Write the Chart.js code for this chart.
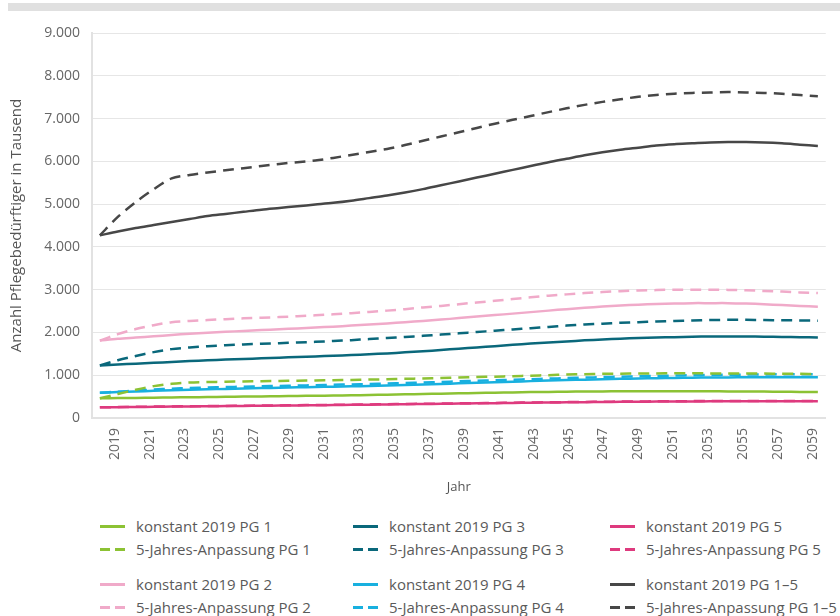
<!DOCTYPE html>
<html lang="de">
<head>
<meta charset="utf-8">
<title>Pflegebedürftige 2019–2059</title>
<script src="https://cdn.jsdelivr.net/npm/chart.js@4/dist/chart.umd.min.js"></script>
<style>
  html, body { margin: 0; padding: 0; background: #fff; }
  body { width: 840px; height: 616px; position: relative; overflow: hidden; font-family: 'Open Sans', sans-serif; }
  .topbar { position: absolute; left: 8px; top: 3px; width: 832px; height: 8px; background: #e0e0e0; }
  .chartBox { position: absolute; left: 0; top: 0; width: 840px; height: 500px; }
  .legend-item { position: absolute; height: 20px; display: flex; align-items: center; font-size: 15px; color: #5a5a5a; white-space: nowrap; }
  .legend-mark { width: 25px; height: 3px; margin-right: 11px; }
</style>
</head>
<body>
<div class="topbar"></div>
<div class="chartBox"><canvas id="myChart"></canvas></div>
<div id="legend"></div>
<script>
// Jahre (Kategorien)
const years = [];
for (let y = 2019; y <= 2059; y++) years.push(y);
const tickYears = years.filter(y => (y - 2019) % 2 === 0);

// Werte in Tausend
const konstPG1 = [460,465,470,475,480,485,490,495,500,505,510,515,520,525,530,537,545,553,561,569,577,585,592,599,605,610,615,619,622,624,625,626,626,625,624,622,620,617,614,610,606];
const anpPG1 = [460,560,660,745,800,830,840,848,855,860,866,872,878,884,890,898,906,915,925,935,945,956,967,978,990,1002,1015,1025,1032,1037,1041,1043,1044,1044,1043,1042,1040,1038,1035,1032,1029];
const konstPG2 = [1810,1850,1880,1910,1940,1970,1995,2015,2035,2055,2075,2095,2115,2135,2160,2185,2210,2240,2270,2300,2335,2370,2405,2440,2475,2510,2545,2575,2605,2630,2650,2665,2675,2685,2685,2685,2675,2660,2640,2620,2600];
const anpPG2 = [1810,1960,2080,2170,2240,2270,2290,2310,2330,2345,2360,2380,2400,2425,2450,2480,2510,2545,2585,2620,2660,2700,2740,2780,2820,2860,2890,2920,2945,2965,2980,2990,3000,3000,3000,2995,2985,2970,2955,2935,2920];
const konstPG3 = [1230,1250,1270,1290,1310,1330,1350,1365,1380,1395,1410,1425,1440,1455,1470,1490,1510,1535,1560,1590,1620,1650,1680,1710,1740,1765,1790,1815,1835,1855,1870,1880,1890,1900,1905,1905,1905,1900,1895,1890,1880];
const anpPG3 = [1230,1350,1450,1540,1610,1650,1680,1700,1720,1735,1750,1765,1780,1800,1820,1845,1870,1895,1920,1950,1980,2010,2040,2070,2100,2130,2160,2185,2205,2225,2240,2255,2270,2280,2290,2295,2295,2290,2285,2280,2275];
const konstPG4 = [590,605,620,635,648,660,670,680,690,700,708,716,724,732,740,750,760,772,784,797,810,823,836,849,862,874,886,897,907,916,924,931,937,942,946,949,951,953,954,955,955];
const anpPG4 = [590,615,640,665,685,700,712,722,732,742,750,758,767,776,785,795,806,818,830,843,856,869,882,895,908,920,932,944,955,965,975,984,992,999,1005,1010,1014,1018,1021,1024,1026];
const konstPG5 = [250,254,258,262,266,270,274,278,282,286,290,294,298,302,307,312,317,322,327,332,337,342,347,352,357,362,366,370,374,377,380,383,385,387,389,390,391,392,392,392,392];
const anpPG5 = [250,256,262,267,271,275,279,283,287,291,295,299,303,307,312,317,322,327,332,337,342,347,352,357,362,367,372,376,380,384,387,390,393,395,397,398,399,400,400,400,400];
const konstPG15 = [4270,4360,4440,4510,4580,4650,4720,4770,4820,4870,4910,4950,4990,5030,5080,5140,5200,5270,5350,5440,5530,5620,5710,5800,5890,5980,6060,6140,6210,6270,6320,6370,6400,6420,6440,6450,6450,6440,6420,6390,6360];
const anpPG15 = [4270,4700,5050,5350,5600,5680,5740,5790,5840,5890,5940,5980,6020,6080,6150,6220,6290,6380,6480,6580,6680,6780,6880,6970,7060,7150,7240,7320,7390,7450,7510,7550,7580,7600,7610,7620,7610,7600,7580,7550,7520];

const yTicks = [0,1000,2000,3000,4000,5000,6000,7000,8000,9000];

const colors = {
  pg1: '#8cc234',
  pg2: '#f0aac9',
  pg3: '#0a687b',
  pg4: '#18b0df',
  pg5: '#de3a7e',
  pg15: '#474747'
};

// Reihen in Legendenreihenfolge (spaltenweise)
const series = [
  { label: 'konstant 2019 PG 1', data: konstPG1, color: colors.pg1, dashed: false },
  { label: '5-Jahres-Anpassung PG 1', data: anpPG1, color: colors.pg1, dashed: true },
  { label: 'konstant 2019 PG 2', data: konstPG2, color: colors.pg2, dashed: false },
  { label: '5-Jahres-Anpassung PG 2', data: anpPG2, color: colors.pg2, dashed: true },
  { label: 'konstant 2019 PG 3', data: konstPG3, color: colors.pg3, dashed: false },
  { label: '5-Jahres-Anpassung PG 3', data: anpPG3, color: colors.pg3, dashed: true },
  { label: 'konstant 2019 PG 4', data: konstPG4, color: colors.pg4, dashed: false },
  { label: '5-Jahres-Anpassung PG 4', data: anpPG4, color: colors.pg4, dashed: true },
  { label: 'konstant 2019 PG 5', data: konstPG5, color: colors.pg5, dashed: false },
  { label: '5-Jahres-Anpassung PG 5', data: anpPG5, color: colors.pg5, dashed: true },
  { label: 'konstant 2019 PG 1–5', data: konstPG15, color: colors.pg15, dashed: false },
  { label: '5-Jahres-Anpassung PG 1–5', data: anpPG15, color: colors.pg15, dashed: true }
];

function fmtDe(v) {
  return String(v).replace(/\B(?=(\d{3})+(?!\d))/g, '.');
}

Chart.defaults.font.family = "'Open Sans', sans-serif";
Chart.defaults.color = '#666';

const datasets = series.map(s => ({
  label: s.label,
  data: years.map((yr, i) => ({ x: yr, y: s.data[i] })),
  borderColor: s.color,
  backgroundColor: s.color,
  borderWidth: 2.5,
  borderDash: s.dashed ? [11, 7] : [],
  pointRadius: 0,
  tension: 0.3,
  fill: false
}));

const ctx = document.getElementById('myChart').getContext('2d');
const myChart = new Chart(ctx, {
  type: 'line',
  data: { datasets: datasets },
  options: {
    responsive: true,
    maintainAspectRatio: false,
    animation: false,
    layout: { padding: { top: 33, right: 2, bottom: 0, left: 0 } },
    plugins: { legend: { display: false }, tooltip: { enabled: false } },
    scales: {
      x: {
        type: 'linear',
        display: false,
        min: 2019 - 8 / 18.25,
        max: 2059 + 8 / 18.25
      },
      xl: {
        type: 'linear',
        position: 'bottom',
        min: 2019 - 23 / 17.75,
        max: 2059 + 13 / 17.75,
        afterBuildTicks: function(scale) {
          scale.ticks = tickYears.map(v => ({ value: v }));
        },
        afterFit: function(scale) { scale.height = 82; },
        ticks: {
          autoSkip: false,
          minRotation: 90,
          maxRotation: 90,
          padding: 10,
          color: '#666',
          font: { size: 14 },
          callback: v => String(v)
        },
        grid: { display: false, drawTicks: false },
        border: { display: true, color: '#e2e2e2', width: 2 },
        title: { display: true, text: 'Jahr', color: '#555', font: { size: 13 }, padding: { top: 0, bottom: 5 } }
      },
      y: {
        min: 0,
        max: 9000,
        afterBuildTicks: function(scale) {
          scale.ticks = yTicks.map(v => ({ value: v }));
        },
        afterFit: function(scale) { scale.width = 92; },
        ticks: {
          padding: 12,
          color: '#666',
          font: { size: 14 },
          callback: v => fmtDe(v)
        },
        grid: { color: '#e6e6e6', lineWidth: 1, drawTicks: false },
        border: { display: true, color: '#e2e2e2', width: 2 },
        title: { display: true, text: 'Anzahl Pflegebedürftiger in Tausend', color: '#555', font: { size: 15 }, padding: { top: 8, bottom: 0 } }
      }
    }
  }
});

// Legende: drei Spalten, vier Zeilen
const legendCols = [100, 353, 610];
const legendRows = [526, 549, 584, 607];
const legendEl = document.getElementById('legend');
series.forEach((s, i) => {
  const col = Math.floor(i / 4);
  const row = i % 4;
  const item = document.createElement('div');
  item.className = 'legend-item';
  item.style.left = legendCols[col] + 'px';
  item.style.top = (legendRows[row] - 10) + 'px';
  const mark = document.createElement('span');
  mark.className = 'legend-mark';
  mark.style.background = s.dashed
    ? 'repeating-linear-gradient(to right, ' + s.color + ' 0 10px, transparent 10px 15px)'
    : s.color;
  const txt = document.createElement('span');
  txt.textContent = s.label;
  item.appendChild(mark);
  item.appendChild(txt);
  legendEl.appendChild(item);
});
</script>
</body>
</html>
